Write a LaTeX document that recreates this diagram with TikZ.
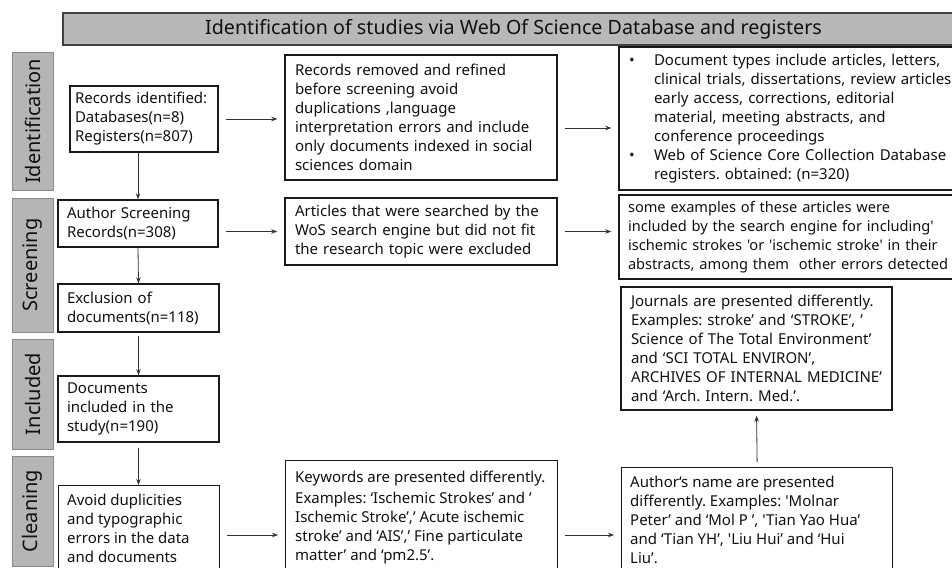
\documentclass[tikz,border=0pt]{standalone}
\usepackage{fontspec}
\newfontfamily\nsans{Noto Sans}
\usetikzlibrary{arrows.meta,calc}
\definecolor{hdrfill}{HTML}{B8B8B8}
\definecolor{hdrbd}{HTML}{404040}
\definecolor{sidefill}{HTML}{B5B5B5}
\definecolor{sidebd}{HTML}{8A8A8A}
\definecolor{boxcol}{HTML}{1A1A1A}
\definecolor{arrcol}{HTML}{333333}
\definecolor{txtcol}{HTML}{111111}
\frenchspacing
\hyphenpenalty=10000
\begin{document}
\begin{tikzpicture}[x=1pt,y=-1pt,
  box/.style={draw=boxcol, line width=1.4pt, inner sep=0pt, align=left, text=txtcol,
    font=\nsans\fontsize{15}{19}\selectfont},
  boxtext/.style={inner sep=0pt, align=left, text=txtcol, anchor=north west,
    font=\nsans\fontsize{15}{19}\selectfont},
  side/.style={draw=sidebd, fill=sidefill, line width=1pt, rotate=90, minimum height=41pt,
    inner sep=0pt, text=txtcol, font=\nsans\fontsize{20}{24}\selectfont},
  arr/.style={-{Stealth[length=6pt,width=4.5pt]}, line width=0.8pt, draw=arrcol},
  harr/.style={arr, shorten <=7pt, shorten >=7pt}]
\useasboundingbox (0,0) rectangle (952,567);
\clip (0,0) rectangle (952,567);
\fill[white] (0,0) rectangle (952,567);

% header
\node[draw=hdrbd, fill=hdrfill, line width=1.2pt, minimum width=901pt, minimum height=32pt,
  inner sep=0pt, text=txtcol, font=\nsans\fontsize{19.7}{23}\selectfont] (hdr) at (513.5,29)
  {Identification of studies via Web Of Science Database and registers};

% side labels
\node[side, minimum width=137pt] (sid) at (32.5,121.5) {Identification};
\node[side, minimum width=134pt] (ssc) at (32.5,265) {Screening};
\node[side, minimum width=110pt] (sin) at (32.5,394) {Included};
\node[side, minimum width=110pt] (scl) at (32.5,511) {Cleaning};

% identification row
\node[box, minimum width=148pt, minimum height=66pt, text width=138pt] (rid) at (144,119)
  {Records identified:\\Databases(n=8)\\Registers(n=807)};
\node[box, minimum width=272pt, minimum height=125pt, text width=252pt] (rr) at (421,117.5)
  {Records removed and refined\\before screening avoid\\duplications ,language\\interpretation errors and include\\only documents indexed in social\\sciences domain};
\node[box, minimum width=360pt, minimum height=143pt, text width=340pt] (dt) at (799,118.5)
  {\makebox[25pt][l]{•}Document types include articles, letters,\\
   \hspace*{25pt}clinical trials, dissertations, review articles\\
   \hspace*{25pt}early access, corrections, editorial\\
   \hspace*{25pt}material, meeting abstracts, and\\
   \hspace*{25pt}conference proceedings\\
   \makebox[25pt][l]{•}Web of Science Core Collection Database\\
   \hspace*{25pt}registers. obtained: (n=320)};

% screening row
\node[box, minimum width=160pt, minimum height=47pt, text width=142pt] (as) at (138,223.5)
  {Author Screening\\Records(n=308)};
\node[box, minimum width=272pt, minimum height=67pt, text width=252pt] (art) at (421,231.5)
  {Articles that were searched by the\\WoS search engine but did not fit\\the research topic were excluded};
\node[box, minimum width=360pt, minimum height=84pt, text width=342pt,
  font=\nsans\fontsize{14.6}{19}\selectfont] (ex) at (799,237)
  {some examples of these articles were\\included by the search engine for including'\\ischemic strokes 'or 'ischemic stroke' in their\\abstracts, among them\ \ other errors detected};
\node[box, minimum width=161pt, minimum height=48pt, text width=143pt] (exc) at (138.5,308)
  {Exclusion of\\documents(n=118)};
\node[box, minimum width=271pt, minimum height=123pt, text width=251pt] (jr) at (756.5,348.5)
  {Journals are presented differently.\\Examples: stroke’ and ‘STROKE’, ’\\Science of The Total Environment’\\and ‘SCI TOTAL ENVIRON’,\\ARCHIVES OF INTERNAL MEDICINE’\\and ‘Arch. Intern. Med.’.};

% included
\node[box, minimum width=161pt, minimum height=66pt, text width=143pt] (doc) at (138.5,409)
  {Documents\\included in the\\study(n=190)};

% cleaning row
\node[box, anchor=north west, minimum width=161pt, minimum height=110pt] (av) at (58,485) {};
\node[boxtext] (avt) at (67,494) {Avoid duplicities\\and typographic\\errors in the data\\and documents};
\node[box, anchor=north west, minimum width=272pt, minimum height=130pt] (kw) at (285,460) {};
\node[boxtext] (kwt) at (295,471) {Keywords are presented differently.\\[2pt]Examples: ‘Ischemic Strokes’ and ’\\Ischemic Stroke’,’ Acute ischemic\\stroke’ and ‘AIS’,’ Fine particulate\\matter’ and ‘pm2.5’.};
\node[box, anchor=north west, minimum width=271pt, minimum height=130pt] (an) at (621,467) {};
\node[boxtext] (ant) at (630,476) {Author‘s name are presented\\differently. Examples: 'Molnar\\Peter’ and ‘Mol P ’, 'Tian Yao Hua’\\and ‘Tian YH’, 'Liu Hui’ and ‘Hui\\Liu’.};

% connectors
\draw[harr] (rid.east) -- (rid.east -| rr.west);
\draw[harr] ([yshift=-10.5pt]rr.east) -- ([yshift=-10.5pt]rr.east -| dt.west);
\draw[harr] (art.west -| as.east) -- (art.west);
\draw[harr] (art.east) -- (art.east -| ex.west);
\draw[harr] (av.east |- 0,535) -- (kw.west |- 0,535);
\draw[harr] (kw.east |- 0,535) -- (an.west |- 0,535);
\draw[arr] (as.north |- rid.south) -- (as.north);
\draw[arr] (as.south) -- (exc.north);
\draw[arr, shorten <=3pt] (exc.south) -- (doc.north);
\draw[arr, shorten <=5pt] (doc.south) -- (doc.south |- av.north);
\draw[arr, shorten <=5pt, shorten >=5pt] (an.north) -- (jr.south);
\end{tikzpicture}
\end{document}
